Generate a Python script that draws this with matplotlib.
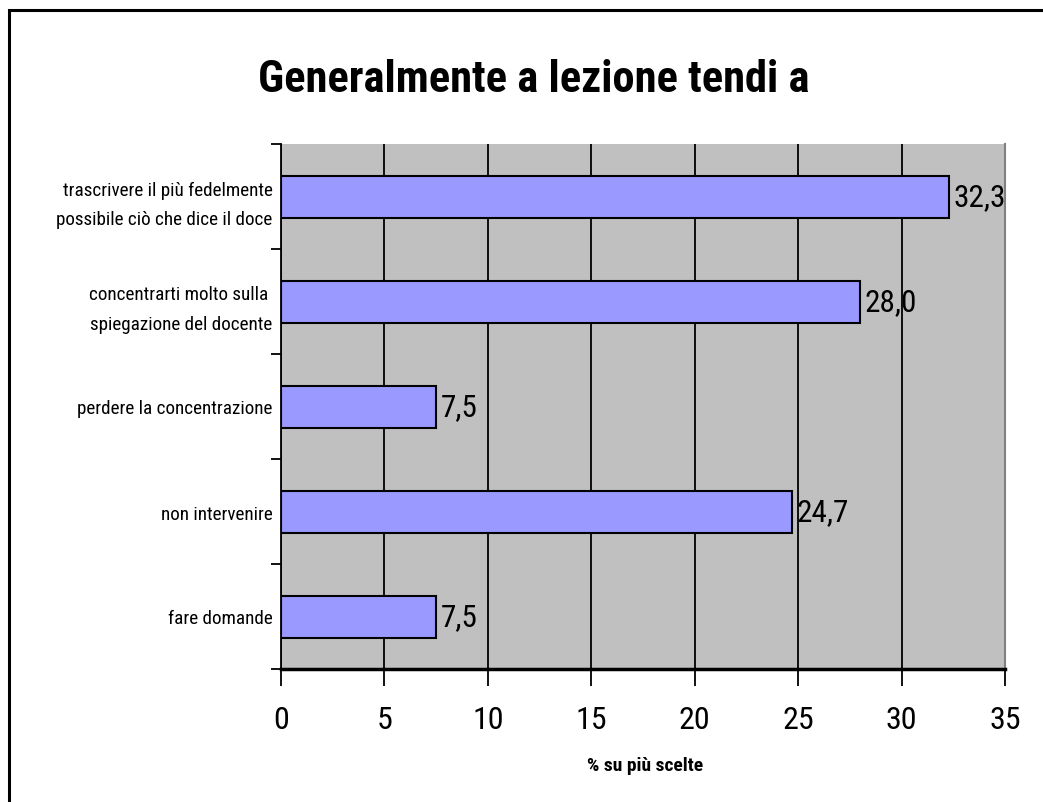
import matplotlib
matplotlib.use("Agg")
import matplotlib.pyplot as plt
from matplotlib import font_manager
from matplotlib.patches import Rectangle

ttf = font_manager.fontManager.ttflist
names = {f.name for f in ttf}
FONT = "Liberation Sans"
for cand in ["Liberation Sans Narrow", "Arial Narrow", "Roboto Condensed", "PT Sans Narrow",
             "Archivo Narrow", "Liberation Sans"]:
    if cand in names and any(f.name == cand and f.weight in (700, "bold") for f in ttf):
        FONT = cand
        break
plt.rcParams['font.family'] = [FONT, 'DejaVu Sans']

categories = [
    "trascrivere il più fedelmente\npossibile ciò che dice il doce",
    "concentrarti molto sulla \nspiegazione del docente",
    "perdere la concentrazione",
    "non intervenire",
    "fare domande",
]
values = [32.3, 28.0, 7.5, 24.7, 7.5]
value_labels = ["32,3", "28,0", "7,5", "24,7", "7,5"]
xticks = [0, 5, 10, 15, 20, 25, 30, 35]
title = "Generalmente a lezione tendi a"
xlabel = "% su più scelte"

W, H = 1043, 803
fig = plt.figure(figsize=(W / 100, H / 100), dpi=100)
fig.patch.set_facecolor("white")

# outer frame (top and left visible)
fig.add_artist(Rectangle((9 / W, -0.05), 1.2, 1 - 11 / H + 0.05, transform=fig.transFigure,
                         fill=False, edgecolor="black", linewidth=2.2))

left, right, top, bottom = 281, 1005, 145, 670
ax = fig.add_axes([left / W, 1 - bottom / H, (right - left) / W, (bottom - top) / H])
ax.set_facecolor("#C0C0C0")

n = len(categories)
ypos = list(range(n))
ax.barh(ypos, values, height=0.4, color="#9999FF", edgecolor="black", linewidth=1.5, zorder=3)
ax.set_xlim(0, 35)
ax.set_ylim(n - 0.5, -0.5)
ax.set_xticks(xticks)
ax.set_xticklabels([str(t) for t in xticks], fontsize=23)
ax.xaxis.grid(True, color="black", linewidth=1.3, zorder=1)
ax.set_axisbelow(True)

ax.set_yticks(ypos)
ax.set_yticklabels(categories, fontsize=13.8, linespacing=1.8)
ax.set_yticks([i - 0.5 for i in range(n + 1)], minor=True)
ax.tick_params(axis="y", which="major", length=0, pad=6)
ax.tick_params(axis="y", which="minor", length=7, width=1.3, direction="out")
ax.tick_params(axis="x", which="major", length=12, width=1.3, direction="out", pad=14)

ax.spines["top"].set_visible(False)
ax.spines["right"].set_color("#808080")
ax.spines["right"].set_linewidth(1.5)
ax.spines["left"].set_linewidth(1.3)
ax.spines["bottom"].set_linewidth(2.5)

for y, v, lab in zip(ypos, values, value_labels):
    ax.text(v + 0.2, y, lab, va="center", ha="left", fontsize=22.5, zorder=4)

fig.text(0.5 * (273 + 795) / W, 1 - 80 / H, title, ha="center", va="center",
         fontsize=32, fontweight="bold")
fig.text(645 / W, 1 - 766 / H, xlabel, ha="center", va="center", fontsize=14, fontweight="bold")

fig.savefig("out.png", dpi=100)
